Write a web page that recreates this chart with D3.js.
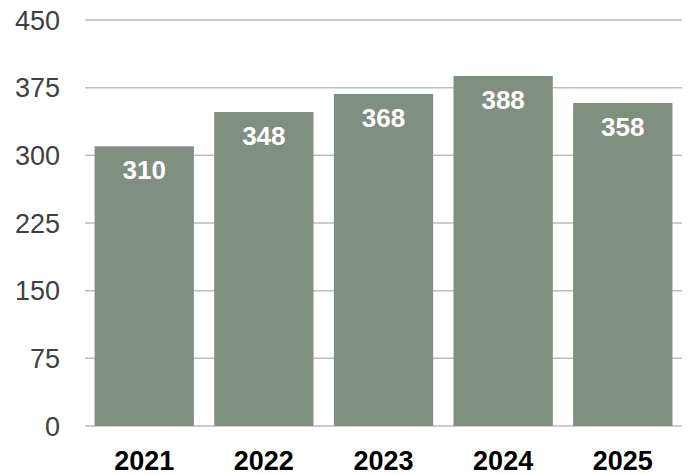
<!DOCTYPE html>
<html>
<head>
<meta charset="UTF-8">
<script src="https://d3js.org/d3.v7.min.js"></script>
<style>
  body { margin: 0; background: #fff; }
  text { font-family: Arial, "Liberation Sans", sans-serif; }
</style>
</head>
<body>
<svg id="chart" width="691" height="475"></svg>
<script>
const years = ["2021", "2022", "2023", "2024", "2025"];
const values = [310, 348, 368, 388, 358];
const yTicks = [0, 75, 150, 225, 300, 375, 450];

const svg = d3.select("#chart");
const plotLeft = 85, plotRight = 682, plotTop = 20, plotBottom = 426;

const x = d3.scaleBand().domain(years).range([plotLeft, plotRight]).paddingInner(0.17).paddingOuter(0.08);
const y = d3.scaleLinear().domain([0, 450]).range([plotBottom, plotTop]);

// gridlines
svg.append("g")
  .selectAll("line")
  .data(yTicks)
  .enter().append("line")
  .attr("x1", plotLeft)
  .attr("x2", plotRight)
  .attr("y1", d => y(d))
  .attr("y2", d => y(d))
  .attr("stroke", "#bdbdbd")
  .attr("stroke-width", 1.5);

// y labels
svg.append("g")
  .selectAll("text")
  .data(yTicks)
  .enter().append("text")
  .attr("x", 60)
  .attr("y", d => y(d))
  .attr("dy", "0.36em")
  .attr("text-anchor", "end")
  .attr("font-size", 27)
  .attr("fill", "#404040")
  .text(d => d);

// bars
svg.append("g")
  .selectAll("rect")
  .data(values)
  .enter().append("rect")
  .attr("x", (d, i) => x(years[i]))
  .attr("width", x.bandwidth())
  .attr("y", d => y(d))
  .attr("height", d => plotBottom - y(d))
  .attr("fill", "#7f8f80");

// value labels
svg.append("g")
  .selectAll("text")
  .data(values)
  .enter().append("text")
  .attr("x", (d, i) => x(years[i]) + x.bandwidth() / 2)
  .attr("y", d => y(d) + 33)
  .attr("text-anchor", "middle")
  .attr("font-size", 26)
  .attr("font-weight", "bold")
  .attr("fill", "#fff")
  .text(d => d);

// x labels
svg.append("g")
  .selectAll("text")
  .data(years)
  .enter().append("text")
  .attr("x", d => x(d) + x.bandwidth() / 2)
  .attr("y", 470)
  .attr("text-anchor", "middle")
  .attr("font-size", 27)
  .attr("font-weight", "bold")
  .attr("fill", "#000")
  .text(d => d);
</script>
</body>
</html>
